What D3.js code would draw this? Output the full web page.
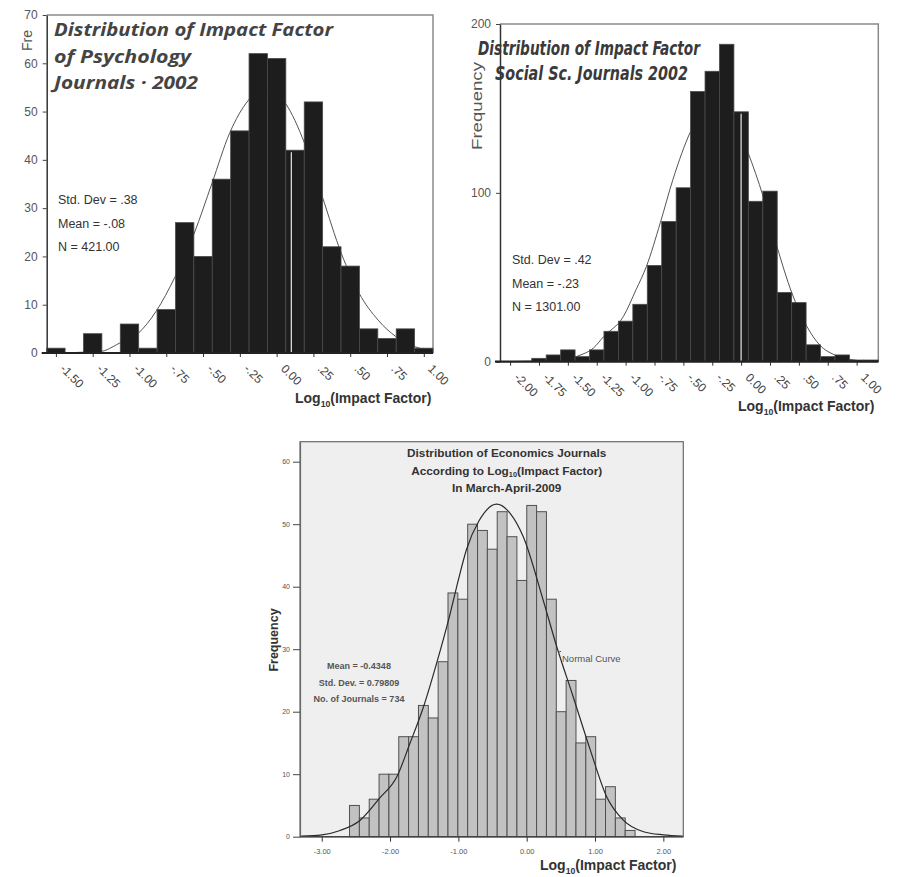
<!DOCTYPE html>
<html>
<head>
<meta charset="utf-8">
<script src="https://cdnjs.cloudflare.com/ajax/libs/d3/7.8.5/d3.min.js"></script>
<style>
  body { margin: 0; background: #fff; }
  svg { display: block; font-family: "Liberation Sans", Arial, sans-serif; }
</style>
</head>
<body>
<div id="viz"></div>
<script>
// ---- psychology journals 2002 (top left)
var psychCounts = [1, 0, 4, 0, 6, 1, 9, 27, 20, 36, 46, 62, 61, 42, 52, 22, 18, 5, 3, 5, 1];
var psychBinStart = -1.5625, psychBinWidth = 0.125;
var psychTicks = [-1.5, -1.25, -1, -0.75, -0.5, -0.25, 0, 0.25, 0.5, 0.75, 1];
var psychTickLabels = ['-1.50', '-1.25', '-1.00', '-.75', '-.50', '-.25', '0.00', '.25', '.50', '.75', '1.00'];
var psychYTicks = [0, 10, 20, 30, 40, 50, 60, 70];
var psychCurveX = [-1.56, -1.2, -1.07, -0.94, -0.82, -0.69, -0.56, -0.44, -0.32, -0.19, -0.08, 0.06, 0.19, 0.31, 0.44, 0.56, 0.69, 0.81, 0.94, 1.06];
var psychCurveY = [0, 0.3, 2.0, 4.1, 8.6, 15.8, 24.8, 35.1, 45.5, 52.4, 54.8, 51.7, 43.4, 32.4, 20.6, 12.4, 6.8, 3.4, 1.3, 0.5];
var psychTitle = ['Distribution of Impact Factor', 'of Psychology', 'Journals \u00b7 2002'];
var psychStats = ['Std. Dev = .38', 'Mean = -.08', 'N = 421.00'];
var psychSplit = 0.1;

// ---- social science journals 2002 (top right)
var socialCounts = [0, 0, 2, 4, 7, 3, 7, 18, 24, 34, 57, 83, 103, 160, 172, 188, 148, 95, 101, 41, 35, 10, 3, 4, 1, 1];
var socialBinStart = -2.0625, socialBinWidth = 0.125;
var socialTicks = [-2, -1.75, -1.5, -1.25, -1, -0.75, -0.5, -0.25, 0, 0.25, 0.5, 0.75, 1];
var socialTickLabels = ['-2.00', '-1.75', '-1.50', '-1.25', '-1.00', '-.75', '-.50', '-.25', '0.00', '.25', '.50', '.75', '1.00'];
var socialYTicks = [0, 100, 200];
var socialCurveX = [-2.06, -1.6, -1.37, -1.28, -1.19, -1.02, -0.91, -0.82, -0.70, -0.59, -0.44, -0.31, -0.23, -0.07, 0.06, 0.19, 0.31, 0.44, 0.57, 0.68, 0.81, 0.94, 1.08, 1.19];
var socialCurveY = [0, 1, 4.5, 8, 14.9, 26.7, 42.6, 56.4, 82.2, 108, 136, 151.5, 154.5, 145.6, 123.8, 98, 68.3, 40.6, 20.8, 9.9, 4, 1.4, 0.3, 0.1];
var socialTitle = ['Distribution of Impact Factor', 'Social Sc. Journals 2002'];
var socialStats = ['Std. Dev = .42', 'Mean = -.23', 'N = 1301.00'];
var socialSplit = 0.0;

// ---- economics journals 2009 (bottom)
var econCounts = [5, 3, 6, 10, 10, 16, 16, 21, 19, 28, 39, 38, 50, 49, 46, 52, 48, 41, 53, 52, 38, 20, 25, 15, 16, 6, 8, 3, 1];
var econBinStart = -2.593, econBinWidth = 0.1441;
var econTicks = [-3, -2, -1, 0, 1, 2];
var econTickLabels = ['-3.00', '-2.00', '-1.00', '0.00', '1.00', '2.00'];
var econYTicks = [0, 10, 20, 30, 40, 50, 60];
var econCurveX = [-3.3, -3.0, -2.73, -2.44, -2.15, -1.9, -1.71, -1.51, -1.32, -1.12, -1.0, -0.88, -0.7, -0.44, -0.24, -0.05, 0.24, 0.44, 0.68, 0.93, 1.17, 1.41, 1.71, 2.0, 2.28];
var econCurveY = [0.1, 0.3, 1.0, 2.6, 6.2, 9.6, 14.9, 20.8, 27.7, 35.7, 41.1, 46, 50.5, 53.2, 51.7, 48, 37.9, 30.4, 22.4, 13.9, 6.4, 2.7, 0.8, 0.3, 0.1];
var econTitle = ['Distribution of Economics Journals', 'According to Log|10|(Impact Factor)', 'In March-April-2009'];
var econStats = ['Mean = -0.4348', 'Std. Dev. = 0.79809', 'No. of Journals = 734'];

var svg = d3.select('#viz')
            .append('svg')
            .attr('width', 899)
            .attr('height', 877);

// writes "Log|10|(...)" with the middle part as a subscript
function logText(sel, str, size) {
  str.split('|').forEach(function(part, i) {
    var t = sel.append('tspan').text(part);
    if (i == 1) t.attr('font-size', size * 0.62).attr('dy', size * 0.25);
    if (i == 2) t.attr('dy', -size * 0.25);
  });
}

function histogram(o) {
  var g = svg.append('g');

  var x = d3.scaleLinear().domain(o.xDomain).range([o.left, o.right]);
  var y = d3.scaleLinear().domain([0, o.yMax]).range([o.bottom, o.top]);

  var bins = o.counts.map(function(c, i) {
    return { x0: o.binStart + i * o.binWidth, x1: o.binStart + (i + 1) * o.binWidth, n: c };
  });

  if (o.panel) {
    g.append('rect')
     .attr('x', o.left).attr('y', o.top)
     .attr('width', o.right - o.left).attr('height', o.bottom - o.top)
     .attr('fill', '#efefef')
     .attr('stroke', '#6a6a6a')
     .attr('stroke-width', 1.2);
  } else {
    g.append('path')
     .attr('d', 'M' + o.left + ',' + o.top + 'H' + o.right + 'V' + o.bottom)
     .attr('fill', 'none')
     .attr('stroke', '#8a8a8a')
     .attr('stroke-width', 1.5);
  }

  var line = d3.line()
               .x(d => x(d[0]))
               .y(d => y(d[1]))
               .curve(d3.curveMonotoneX);
  var pts = d3.zip(o.curveX, o.curveY);

  if (!o.curveOnTop) {
    g.append('path').attr('d', line(pts))
     .attr('fill', 'none').attr('stroke', '#555').attr('stroke-width', 1);
  }

  g.selectAll('rect.bar')
   .data(bins.filter(d => d.n > 0))
   .enter()
   .append('rect')
     .attr('class', 'bar')
     .attr('x', d => x(d.x0))
     .attr('y', d => y(d.n))
     .attr('width', d => x(d.x1) - x(d.x0))
     .attr('height', d => y(0) - y(d.n))
     .attr('fill', o.barFill)
     .attr('stroke', o.barStroke)
     .attr('stroke-width', o.panel ? 1 : 0.8);

  // the odd light seam inside one bar
  if (o.split != null) {
    var sb = bins.find(d => o.split >= d.x0 && o.split < d.x1);
    g.append('line')
     .attr('x1', x(o.split)).attr('x2', x(o.split))
     .attr('y1', y(sb.n) + 2).attr('y2', y(0))
     .attr('stroke', '#d8d8d8').attr('stroke-width', 1.3);
  }

  if (o.curveOnTop) {
    g.append('path').attr('d', line(pts))
     .attr('fill', 'none').attr('stroke', '#2a2a2a').attr('stroke-width', 1.2);
  }

  // y axis
  var yAxis = g.append('g')
               .attr('transform', 'translate(' + o.left + ',0)')
               .call(d3.axisLeft(y).tickValues(o.yTicks).tickSize(o.panel ? 7 : 4).tickSizeOuter(0).tickFormat(d3.format('d')));
  yAxis.select('.domain').attr('stroke', o.panel ? '#6a6a6a' : '#333').attr('stroke-width', o.panel ? 1.2 : 1.5);
  yAxis.selectAll('.tick line').attr('stroke', '#444');
  yAxis.selectAll('text')
       .attr('fill', '#555')
       .attr('font-size', o.panel ? 7 : 12)
       .attr('x', o.panel ? -10 : -9);

  // x axis
  var xAxis = g.append('g')
               .attr('transform', 'translate(0,' + o.bottom + ')')
               .call(d3.axisBottom(x).tickValues(o.ticks).tickSize(o.panel ? 5 : 4).tickSizeOuter(0)
                       .tickFormat((d, i) => o.tickLabels[i]));
  xAxis.select('.domain').remove();
  g.append('line')
   .attr('x1', o.panel ? o.left : o.left - 5).attr('x2', o.right)
   .attr('y1', o.bottom).attr('y2', o.bottom)
   .attr('stroke', o.panel ? '#444' : '#222')
   .attr('stroke-width', o.panel ? 1.4 : 2.2);
  xAxis.selectAll('.tick line').attr('stroke', '#333');
  if (o.panel) {
    xAxis.selectAll('text').attr('fill', '#555').attr('font-size', 7.5).attr('y', 12);
  } else {
    xAxis.selectAll('text')
         .attr('fill', '#444')
         .attr('font-size', 12)
         .attr('text-anchor', 'start')
         .attr('y', null).attr('dy', null)
         .attr('transform', 'translate(3,16.5) rotate(45)');
  }

  return { g: g, x: x, y: y };
}

// ================= top left
var c1 = histogram({
  left: 46.7, right: 433, top: 15, bottom: 353,
  xDomain: [-1.5625, 1.0625], yMax: 70,
  counts: psychCounts, binStart: psychBinStart, binWidth: psychBinWidth,
  ticks: psychTicks, tickLabels: psychTickLabels, yTicks: psychYTicks,
  curveX: psychCurveX, curveY: psychCurveY,
  barFill: '#1d1d1d', barStroke: '#4a4a4a', split: psychSplit
});

c1.g.append('text')
    .attr('transform', 'translate(32,51) rotate(-90)')
    .attr('font-size', 14).attr('fill', '#555')
    .text('Fre');

c1.g.selectAll('text.title')
    .data(psychTitle)
    .enter()
    .append('text')
      .attr('x', 54)
      .attr('y', (d, i) => 36 + i * 26.5)
      .attr('font-family', '"Open Sans", sans-serif')
      .attr('font-weight', 'bold').attr('font-style', 'italic')
      .attr('font-size', 17).attr('fill', '#444')
      .attr('textLength', (d, i) => [279, 137, 144][i])
      .attr('lengthAdjust', 'spacingAndGlyphs')
      .text(d => d);

c1.g.selectAll('text.stat')
    .data(psychStats)
    .enter()
    .append('text')
      .attr('x', 58)
      .attr('y', (d, i) => 204 + i * 23.5)
      .attr('font-size', 12.5).attr('fill', '#333')
      .text(d => d);

logText(c1.g.append('text').attr('x', 295).attr('y', 403)
            .attr('font-weight', 'bold').attr('font-size', 14).attr('fill', '#333'),
        'Log|10|(Impact Factor)', 14);

// ================= top right
var c2 = histogram({
  left: 500, right: 878.3, top: 24, bottom: 361.7,
  xDomain: [-2.0875, 1.1875], yMax: 200,
  counts: socialCounts, binStart: socialBinStart, binWidth: socialBinWidth,
  ticks: socialTicks, tickLabels: socialTickLabels, yTicks: socialYTicks,
  curveX: socialCurveX, curveY: socialCurveY,
  barFill: '#1d1d1d', barStroke: '#4a4a4a', split: socialSplit
});

c2.g.append('text')
    .attr('transform', 'translate(482,150) rotate(-90)')
    .attr('font-size', 15).attr('fill', '#555')
    .attr('textLength', 88).attr('lengthAdjust', 'spacingAndGlyphs')
    .text('Frequency');

c2.g.selectAll('text.title')
    .data(socialTitle)
    .enter()
    .append('text')
      .attr('x', (d, i) => [478, 495][i])
      .attr('y', (d, i) => [55, 80][i])
      .attr('font-family', '"Liberation Sans Narrow", "DejaVu Sans Condensed", sans-serif')
      .attr('font-weight', 'bold').attr('font-style', 'italic')
      .attr('font-size', 19).attr('fill', '#3a3a3a')
      .attr('textLength', (d, i) => [222, 193][i])
      .attr('lengthAdjust', 'spacingAndGlyphs')
      .text(d => d);

c2.g.selectAll('text.stat')
    .data(socialStats)
    .enter()
    .append('text')
      .attr('x', 512)
      .attr('y', (d, i) => 264 + i * 23.5)
      .attr('font-size', 12.5).attr('fill', '#333')
      .text(d => d);

logText(c2.g.append('text').attr('x', 738).attr('y', 411)
            .attr('font-weight', 'bold').attr('font-size', 14).attr('fill', '#333'),
        'Log|10|(Impact Factor)', 14);

// ================= bottom
var c3 = histogram({
  left: 300, right: 683.3, top: 441.7, bottom: 836.7,
  xDomain: [-3.318, 2.292], yMax: 63.2, panel: true, curveOnTop: true,
  counts: econCounts, binStart: econBinStart, binWidth: econBinWidth,
  ticks: econTicks, tickLabels: econTickLabels, yTicks: econYTicks,
  curveX: econCurveX, curveY: econCurveY,
  barFill: '#c2c2c2', barStroke: '#505050'
});

c3.g.selectAll('text.title')
    .data(econTitle)
    .enter()
    .append('text')
      .attr('x', 506.7)
      .attr('y', (d, i) => 457 + i * 17.5)
      .attr('text-anchor', 'middle')
      .attr('font-weight', 'bold')
      .attr('font-size', 11.8).attr('fill', '#333')
      .each(function(d) { logText(d3.select(this), d, 11.8); });

c3.g.selectAll('text.stat')
    .data(econStats)
    .enter()
    .append('text')
      .attr('x', 359)
      .attr('y', (d, i) => 669 + i * 16.5)
      .attr('text-anchor', 'middle')
      .attr('font-weight', 'bold')
      .attr('font-size', 9).attr('fill', '#555')
      .text(d => d);

c3.g.append('text')
    .attr('transform', 'translate(278,640) rotate(-90)')
    .attr('text-anchor', 'middle')
    .attr('font-weight', 'bold').attr('font-size', 12.5).attr('fill', '#333')
    .text('Frequency');

// "Normal Curve" call-out next to the curve
c3.g.append('line')
    .attr('x1', c3.x(0.46)).attr('y1', c3.y(29.5))
    .attr('x2', 561).attr('y2', c3.y(29.5) - 1)
    .attr('stroke', '#555').attr('stroke-width', 1);
c3.g.append('text')
    .attr('x', 562).attr('y', 662)
    .attr('font-size', 9.5).attr('fill', '#555')
    .text('Normal Curve');

logText(c3.g.append('text').attr('x', 540).attr('y', 870)
            .attr('font-weight', 'bold').attr('font-size', 14).attr('fill', '#333'),
        'Log|10|(Impact Factor)', 14);
</script>
</body>
</html>
